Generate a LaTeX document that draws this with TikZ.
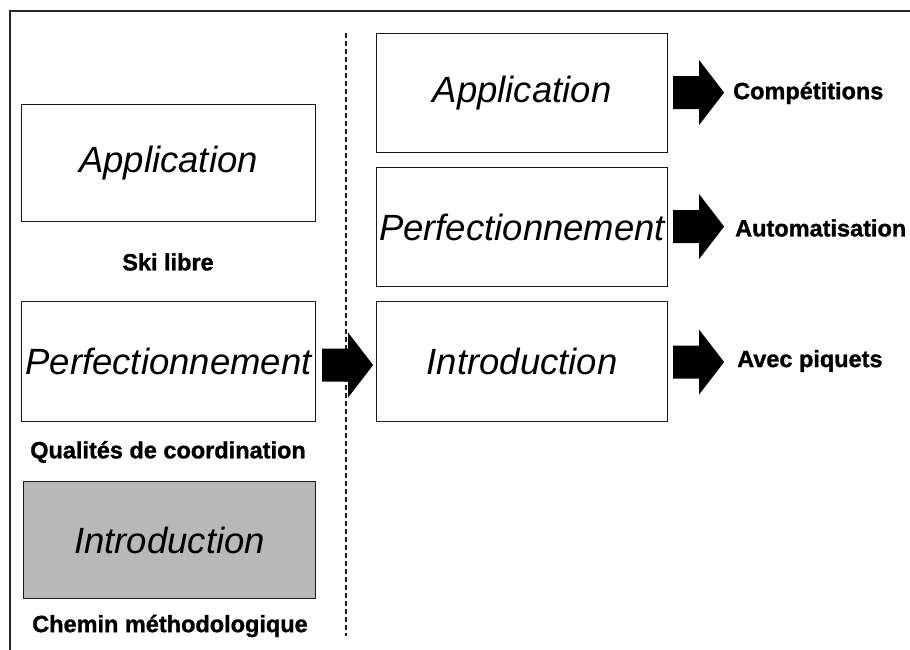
\documentclass[tikz,border=0pt]{standalone}
\usepackage{fontspec}
\setmainfont{Liberation Sans}
\newfontfamily\heavyfont{Liberation Sans Bold}[FakeBold=1.2]
\begin{document}
\begin{tikzpicture}[x=1pt,y=-1pt,
  box/.style={draw=black!90, line width=1.1pt, inner sep=0pt, anchor=north west,
    font=\itshape\fontsize{36.5}{40}\selectfont},
  lbl/.style={inner sep=0pt, font=\heavyfont\fontsize{23.5}{26}\selectfont},
  frameline/.style={draw=black!85, line width=1.4pt},
  pics/blockarrow/.style={code={
    \fill[black] (0,-16.5) -- (26,-16.5) -- (26,-32.5) -- (51,0) -- (26,32.5) -- (26,16.5) -- (0,16.5) -- cycle;}}
]
\useasboundingbox (0,0) rectangle (910,650);
% frame
\coordinate (ftl) at (10,11);
\coordinate (ftr) at (910,11);
\coordinate (fbl) at (10,650);
\draw[frameline] (ftr) -- (ftl) -- (fbl);
% dashed separator
\coordinate (dtop) at (346,33);
\coordinate (dbot) at (346,636);
\draw[black!90, line width=1.3pt, dash pattern=on 5pt off 3pt] (dtop) -- (dbot);
% left column
\node[box, minimum width=294, minimum height=117] (lapp) at (21,104) {Application};
\node[lbl] (ski) at (168,262) {Ski libre};
\node[box, minimum width=294, minimum height=120] (lperf) at (21,301) {Perfectionnement};
\node[lbl] (qual) at (168,452) {Qualités de coordination};
\node[box, fill=black!28, minimum width=292, minimum height=117] (lint) at (23,481) {Introduction};
\node[lbl] (chem) at (170,626) {Chemin méthodologique};
% right column
\node[box, minimum width=291, minimum height=119] (rapp) at (376,33) {Application};
\node[box, minimum width=291, minimum height=119] (rperf) at (376,167) {Perfectionnement};
\node[box, minimum width=291, minimum height=120] (rint) at (376,301) {Introduction};
\node[lbl, anchor=west] (comp) at (733,93) {Compétitions};
\node[lbl, anchor=west] (auto) at (735,228) {Automatisation};
\node[lbl, anchor=west] (avec) at (737,361) {Avec piquets};
% block arrows
\pic at ([xshift=6pt,yshift=-3.5pt]lperf.east) {blockarrow};
\pic at ([xshift=5pt,yshift=0.5pt]rapp.east) {blockarrow};
\pic at ([xshift=5pt,yshift=0.5pt]rperf.east) {blockarrow};
\pic at ([xshift=5pt,yshift=-0.5pt]rint.east) {blockarrow};
\end{tikzpicture}
\end{document}
